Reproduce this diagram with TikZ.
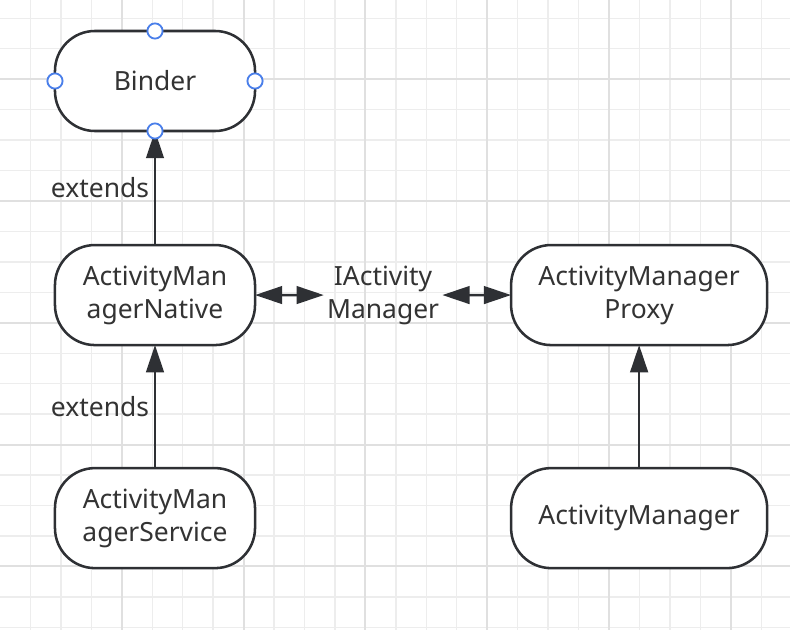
\documentclass[tikz,border=0pt]{standalone}
\usepackage{fontspec}
\setmainfont{Noto Sans}
\usetikzlibrary{arrows.meta, positioning, calc}
\definecolor{inkc}{HTML}{333333}
\definecolor{linec}{HTML}{2E3034}
\definecolor{gridc}{HTML}{EDEDED}
\definecolor{gridmajc}{HTML}{E0E0E0}
\definecolor{handlec}{HTML}{4A7FEA}

\begin{document}
\begin{tikzpicture}[
    x=0.025cm, y=-0.025cm,
    box/.style={draw=linec, line width=1.8pt, fill=white, outer sep=0pt, minimum width=5cm, minimum height=2.5cm, align=center, rounded corners=1cm, text=inkc, font=\fontsize{18.8}{23.5}\selectfont},
    lbl/.style={text=inkc, align=center, font=\fontsize{18.8}{23.5}\selectfont},
    link/.style={draw=linec, line width=1.8pt},
    gridline/.style={draw=gridc, line width=1pt},
    gridmajor/.style={draw=gridmajc, line width=1.4pt},
    handle/.style={draw=handlec, line width=1.3pt, fill=white},
    >={Triangle[length=0.68cm 0 0, width=0.44cm 0 0]}
]
\useasboundingbox (0,0) rectangle (790,630);
\fill[white] (0,0) rectangle (790,630);

% grid
\foreach \k in {1,...,25}
    \draw[gridline] ({\k*30.45},0) -- ({\k*30.45},630);
\foreach \k in {0,...,20}
    \draw[gridline] (0,{18.3+\k*30.45}) -- (790,{18.3+\k*30.45});
\foreach \k in {4,8,...,24}
    \draw[gridmajor] ({\k*30.45},0) -- ({\k*30.45},630);
\foreach \k in {2,6,...,18}
    \draw[gridmajor] (0,{18.3+\k*30.45}) -- (790,{18.3+\k*30.45});

\node[box] (binder) at (155,81) {Binder};
\node[box, below=2.85cm of binder] (native) {ActivityMan\\agerNative};
\node[box, below=3.075cm of native] (service) {ActivityMan\\agerService};
\node[box, minimum width=6.4cm, right=6.4cm of native] (proxy) {ActivityManager\\Proxy};
\node[box, minimum width=6.4cm, below=3.075cm of proxy] (manager) {ActivityManager};
\node[lbl, inner sep=0.075cm] (iam) at ($(native.east)!0.5!(proxy.west)$) {IActivity\\Manager};

\draw[link, ->] (native) -- node[lbl, left] {extends} (binder);
\draw[link, ->] (service) -- node[lbl, left] {extends} (native);
\draw[link, ->] (manager) -- (proxy);
\draw[link, <->] (native) -- (iam);
\draw[link, <->] (iam) -- (proxy);

% selection handles
\foreach \a in {north, south, east, west}
    \draw[handle] (binder.\a) circle[radius=0.19cm];
\end{tikzpicture}
\end{document}
